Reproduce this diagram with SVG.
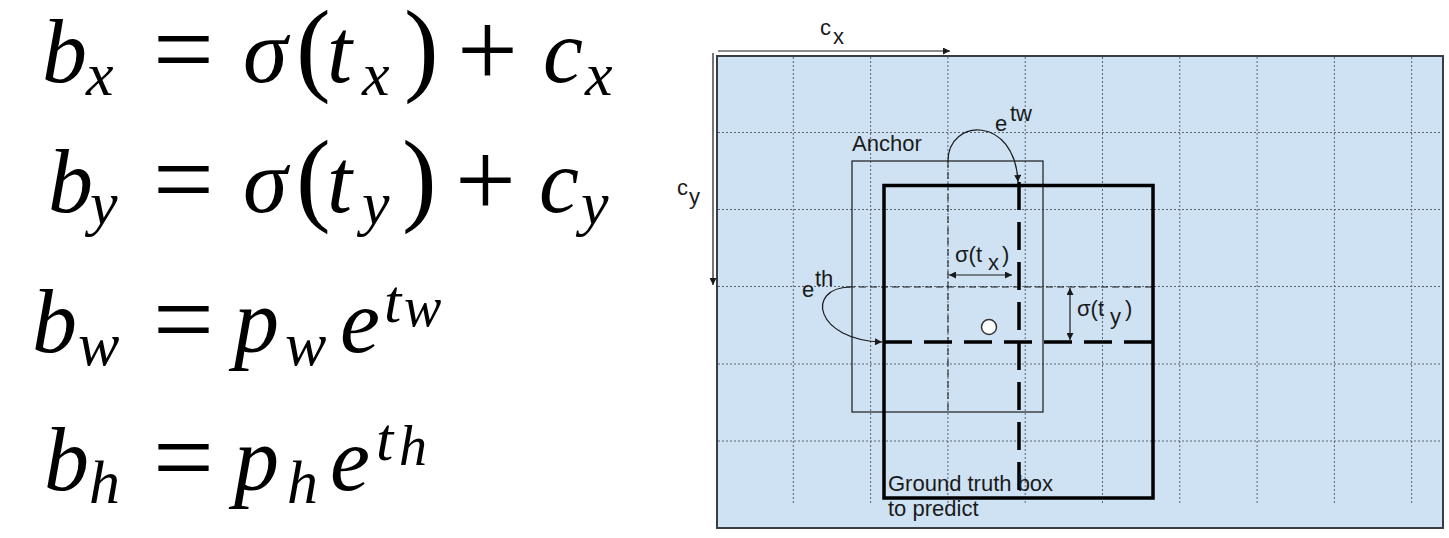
<svg xmlns="http://www.w3.org/2000/svg" width="1449" height="538" viewBox="0 0 1449 538">
<style>
.m{font-family:"Liberation Serif","Times New Roman",serif;font-style:italic;font-size:90px;fill:#000}
.s{font-size:62px}
.ss{font-size:56px}
.u{font-family:"Liberation Serif","Times New Roman",serif;font-style:normal;fill:#000}
.op{font-size:108px}
.par{font-size:104px}
.lbl{font-family:"Liberation Sans",Arial,sans-serif;font-size:22px;fill:#1a1a1a}
.grid{stroke:#5b6673;stroke-width:1;stroke-dasharray:2 2;fill:none}
.thin{stroke:#1a1a1a;stroke-width:1.2;fill:none}
.cdash{stroke:#1a1a1a;stroke-width:1;stroke-dasharray:7 4;fill:none}
.thick{stroke:#000;stroke-width:3.5;fill:none}
.tdash{stroke:#000;stroke-width:3.5;stroke-dasharray:28 12;fill:none}
.arr{stroke:#1a1a1a;stroke-width:1.2;fill:none}
</style>
<defs>
<marker id="ah" viewBox="0 0 10 10" refX="10" refY="5" markerWidth="8" markerHeight="7" markerUnits="userSpaceOnUse" orient="auto-start-reverse"><path d="M0,0 L10,5 L0,10 z" fill="#1a1a1a"/></marker>
</defs>
<rect width="1449" height="538" fill="#fff"/>
<g id="equations">
<g id="eq-bx">
<text class="m"><tspan x="42" y="82">b</tspan><tspan class="s" x="86" y="95">x</tspan></text>
<text class="u op" x="153" y="85">=</text>
<text class="m" x="243" y="82">σ</text>
<text class="u par" x="296" y="82">(</text>
<text class="m"><tspan x="327" y="82">t</tspan><tspan class="s" x="362" y="95">x</tspan></text>
<text class="u par" x="404" y="82">)</text>
<text class="u op" x="457" y="86">+</text>
<text class="m"><tspan x="543" y="82">c</tspan><tspan class="s" x="585" y="95">x</tspan></text>
</g>
<g id="eq-by">
<text class="m"><tspan x="48" y="212">b</tspan><tspan class="s" x="90" y="224">y</tspan></text>
<text class="u op" x="153" y="215">=</text>
<text class="m" x="243" y="212">σ</text>
<text class="u par" x="296" y="212">(</text>
<text class="m"><tspan x="327" y="212">t</tspan><tspan class="s" x="362" y="224">y</tspan></text>
<text class="u par" x="402" y="212">)</text>
<text class="u op" x="455" y="216">+</text>
<text class="m"><tspan x="539" y="212">c</tspan><tspan class="s" x="581" y="224">y</tspan></text>
</g>
<g id="eq-bw">
<text class="m"><tspan x="32" y="352">b</tspan><tspan class="s" x="78" y="365">w</tspan></text>
<text class="u op" x="153" y="355">=</text>
<text class="m"><tspan x="234" y="352">p</tspan><tspan class="s" x="285" y="365">w</tspan><tspan x="340" y="352">e</tspan><tspan class="s" x="384" y="322">t</tspan><tspan class="ss" x="404" y="326">w</tspan></text>
</g>
<g id="eq-bh">
<text class="m"><tspan x="44" y="490">b</tspan><tspan class="s" x="89" y="503">h</tspan></text>
<text class="u op" x="153" y="493">=</text>
<text class="m"><tspan x="234" y="490">p</tspan><tspan class="s" x="287" y="503">h</tspan><tspan x="330" y="490">e</tspan><tspan class="s" x="376" y="460">t</tspan><tspan class="ss" x="399" y="465">h</tspan></text>
</g>
</g>
<g id="panel">
<rect x="717" y="56" width="726" height="472" fill="#cfe2f3" stroke="#3a3d41" stroke-width="2"/>
<g id="grid">
<path class="grid" d="M793.3,57V505M870.6,57V505M947.9,57V505M1025.2,57V505M1102.5,57V505M1179.8,57V505M1257.1,57V505M1334.4,57V505M1411.7,57V505"/>
<path class="grid" d="M718,132.5H1442M718,209.5H1442M718,286.5H1442M718,364H1442M718,441H1442"/>
</g>
</g>
<g id="anchor">
<rect class="thin" x="852" y="161" width="191" height="251"/>
<text class="lbl" x="852" y="151">Anchor</text>
</g>
<g id="anchor-center">
<path class="cdash" d="M948,161V412M848,287H1153"/>
</g>
<g id="gt-box">
<rect class="thick" x="884" y="185.5" width="269" height="312.5"/>
<path class="tdash" d="M884,342H1153"/>
<path class="tdash" d="M1019,182V494" stroke-dasharray="30 12"/>
<text class="lbl" x="888" y="491">Ground truth box</text>
<text class="lbl" x="888" y="516">to predict</text>
</g>
<g id="center-point">
<circle cx="989" cy="327" r="7.5" fill="#fff" stroke="#333" stroke-width="1.5"/>
</g>
<g id="connectors">
<path class="arr" d="M718,51H950" marker-end="url(#ah)"/>
<path class="arr" d="M713,53V285" marker-end="url(#ah)"/>
<path class="arr" d="M948,161C948,118 1015,115 1018,182" marker-end="url(#ah)"/>
<path class="arr" d="M850,287C805,288 815,340 882,342" marker-end="url(#ah)"/>
<path class="arr" d="M949,275H1012" marker-start="url(#ah)" marker-end="url(#ah)"/>
<path class="arr" d="M1070,288V340" marker-start="url(#ah)" marker-end="url(#ah)"/>
</g>
<g id="labels">
<text class="lbl"><tspan x="820" y="35">c</tspan><tspan x="833" y="44">x</tspan></text>
<text class="lbl"><tspan x="677" y="195">c</tspan><tspan x="689" y="204">y</tspan></text>
<text class="lbl"><tspan x="995" y="131">e</tspan><tspan x="1010" y="121">tw</tspan></text>
<text class="lbl"><tspan x="802" y="297">e</tspan><tspan x="815" y="286">th</tspan></text>
<text class="lbl"><tspan x="955" y="262">σ(t</tspan><tspan x="988" y="270">x</tspan><tspan x="1002" y="262">)</tspan></text>
<text class="lbl"><tspan x="1077" y="316">σ(t</tspan><tspan x="1110" y="324">y</tspan><tspan x="1125" y="316">)</tspan></text>
</g>
</svg>
